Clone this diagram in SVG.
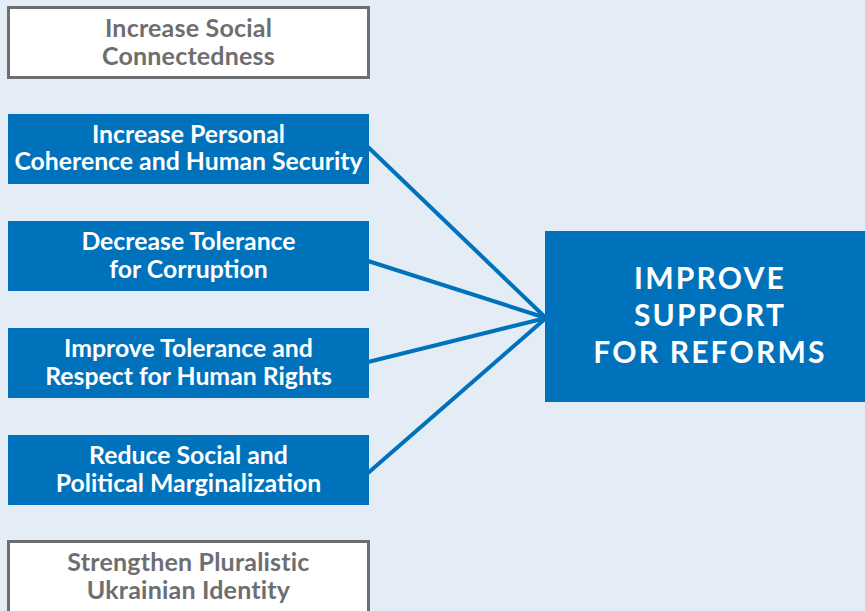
<svg xmlns="http://www.w3.org/2000/svg" width="865" height="611" viewBox="0 0 865 611">
<style>
.bg{fill:#e4ecf6}
.gbox{fill:#ffffff;stroke:#6d6e70;stroke-width:3}
.bbox{fill:#0072bb}
.gt{font-family:Lato,"Open Sans",sans-serif;font-weight:bold;font-size:25px;fill:#6d6e70;text-anchor:middle;letter-spacing:0.2px}
.bt{font-family:Lato,"Open Sans",sans-serif;font-weight:bold;font-size:24.8px;fill:#ffffff;text-anchor:middle}
.big{font-family:Lato,"Open Sans",sans-serif;font-weight:bold;font-size:30px;fill:#ffffff;text-anchor:middle;letter-spacing:2.2px}
.conn{stroke:#0072bb;stroke-width:4;fill:none}
</style>
<rect class="bg" x="0" y="0" width="865" height="611"/>
<g id="connectors">
<line class="conn" x1="368" y1="147" x2="546" y2="318"/>
<line class="conn" x1="368" y1="261" x2="546" y2="318"/>
<line class="conn" x1="368" y1="362" x2="546" y2="318"/>
<line class="conn" x1="368" y1="473" x2="546" y2="318"/>
</g>
<g id="n1">
<rect class="gbox" x="8.5" y="7.5" width="360" height="70"/>
<text class="gt" x="188.5" y="37">Increase Social</text>
<text class="gt" x="188.5" y="65">Connectedness</text>
</g>
<g id="n2">
<rect class="bbox" x="8" y="114" width="361" height="70"/>
<text class="bt" x="188.5" y="143">Increase Personal</text>
<text class="bt" x="188.5" y="170">Coherence and Human Security</text>
</g>
<g id="n3">
<rect class="bbox" x="8" y="221" width="361" height="70"/>
<text class="bt" x="188.5" y="250">Decrease Tolerance</text>
<text class="bt" x="188.5" y="278">for Corruption</text>
</g>
<g id="n4">
<rect class="bbox" x="8" y="328" width="361" height="70"/>
<text class="bt" x="188.5" y="357">Improve Tolerance and</text>
<text class="bt" x="188.5" y="385">Respect for Human Rights</text>
</g>
<g id="n5">
<rect class="bbox" x="8" y="435" width="361" height="70"/>
<text class="bt" x="188.5" y="464">Reduce Social and</text>
<text class="bt" x="188.5" y="492">Political Marginalization</text>
</g>
<g id="n6">
<rect class="gbox" x="8.5" y="541.5" width="360" height="80"/>
<text class="gt" x="188.5" y="571">Strengthen Pluralistic</text>
<text class="gt" x="188.5" y="599">Ukrainian Identity</text>
</g>
<g id="n7">
<rect class="bbox" x="545" y="231" width="320" height="171"/>
<text class="big" x="710" y="289">IMPROVE</text>
<text class="big" x="710" y="326">SUPPORT</text>
<text class="big" x="710" y="363">FOR REFORMS</text>
</g>
</svg>
